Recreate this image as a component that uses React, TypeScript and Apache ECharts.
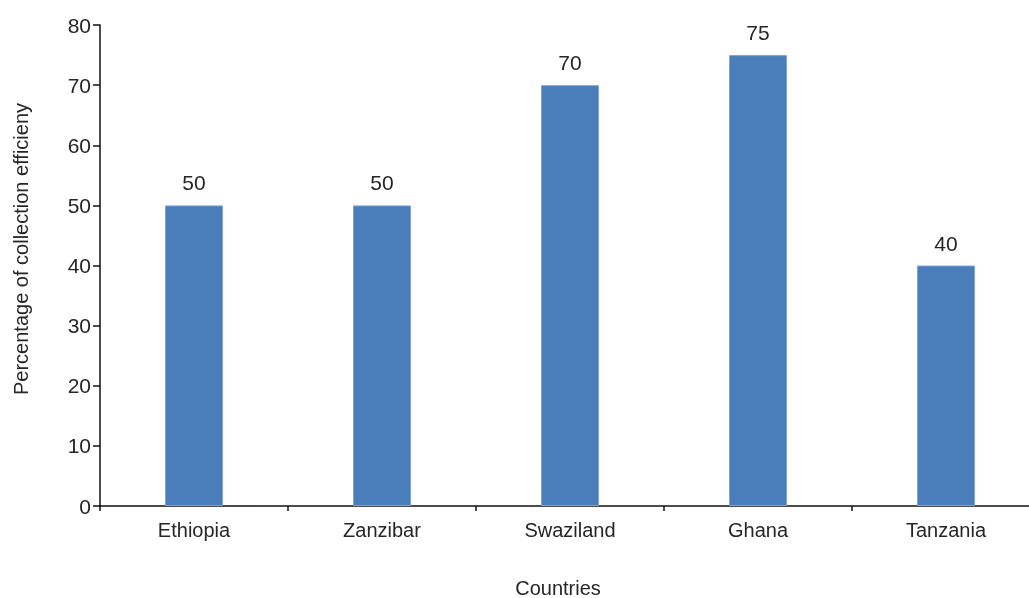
import React, { useEffect, useRef } from "react";
import * as echarts from "echarts";

const categories = ["Ethiopia", "Zanzibar", "Swaziland", "Ghana", "Tanzania"];
const values = [50, 50, 70, 75, 40];
const yTicks = { min: 0, max: 80, interval: 10 };
const xName = "Countries";
const yName = "Percentage of collection efficieny";

export default function App() {
  const ref = useRef<HTMLDivElement>(null);
  useEffect(() => {
    document.body.style.margin = "0";
    document.documentElement.style.overflow = "hidden";
    document.body.style.overflow = "hidden";
    const chart = echarts.init(ref.current!, null, { renderer: "svg" });
    const font = "'Liberation Sans', Arial, sans-serif";
    chart.setOption({
      animation: false,
      textStyle: { fontFamily: font },
      grid: {
        left: 100,
        top: 25,
        width: 940,
        height: 481,
        containLabel: false,
        outerBoundsMode: "none",
      },
      graphic: [
        {
          type: "text",
          x: 21,
          y: 249,
          rotation: Math.PI / 2,
          style: {
            text: yName,
            fontSize: 20,
            fill: "#262626",
            fontFamily: font,
            align: "center",
            verticalAlign: "middle",
          },
        },
      ],
      xAxis: {
        type: "category",
        data: categories,
        name: xName,
        nameLocation: "middle",
        nameGap: 72,
        nameTextStyle: {
          fontSize: 20,
          color: "#262626",
          fontFamily: font,
          padding: [0, 24, 0, 0],
        },
        axisLine: { lineStyle: { color: "#111", width: 1.5 } },
        axisTick: { show: true, length: 5, lineStyle: { color: "#111", width: 1.5 } },
        axisLabel: { fontSize: 20, color: "#262626", margin: 14, fontFamily: font },
        splitLine: { show: false },
      },
      yAxis: {
        type: "value",
        min: yTicks.min,
        max: yTicks.max,
        interval: yTicks.interval,
        axisLine: { show: true, lineStyle: { color: "#111", width: 1.5 } },
        axisTick: { show: true, length: 7, lineStyle: { color: "#111", width: 1.5 } },
        axisLabel: { fontSize: 21, color: "#262626", margin: 9, fontFamily: font },
        splitLine: { show: false },
      },
      series: [
        {
          type: "bar",
          data: values,
          barWidth: 58,
          itemStyle: { color: "#4A7EBB", borderColor: "#7FA5D6", borderWidth: 1 },
          label: {
            show: true,
            position: "top",
            distance: 12,
            fontSize: 21,
            color: "#262626",
            fontFamily: font,
          },
        },
      ],
    });
    return () => chart.dispose();
  }, []);
  return (
    <div
      ref={ref}
      style={{ position: "fixed", left: 0, top: 0, width: 1029, height: 598 }}
    />
  );
}
